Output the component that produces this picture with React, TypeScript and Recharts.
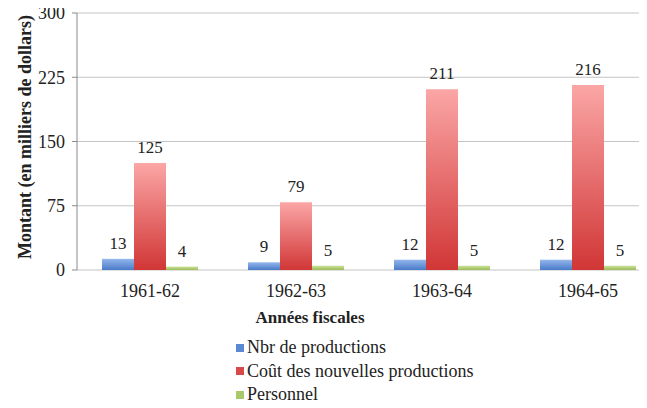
import { BarChart, Bar, XAxis, YAxis, CartesianGrid, Legend, LabelList } from 'recharts';

const years = ['1961-62', '1962-63', '1963-64', '1964-65'];
const nbrProductions = [13, 9, 12, 12];
const coutNouvellesProductions = [125, 79, 211, 216];
const personnel = [4, 5, 5, 5];
const yTicks = [0, 75, 150, 225, 300];

const SERIES = [
  { key: 'nbr', name: 'Nbr de productions', top: '#93b6ec', bottom: '#4a7bc8', swatch: '#5b88d2' },
  { key: 'cout', name: 'Coût des nouvelles productions', top: '#fba6a6', bottom: '#d13636', swatch: '#d84a4a' },
  { key: 'pers', name: 'Personnel', top: '#cbe29a', bottom: '#9bbb59', swatch: '#a8c86a' },
];

const data = years.map((year, i) => ({
  year,
  nbr: nbrProductions[i],
  cout: coutNouvellesProductions[i],
  pers: personnel[i],
}));

// boundaries between categories, for the tick marks under the x axis
const edges = years.map((_, i) => i).concat(years.length);

const FONT = "'Liberation Serif', Tinos, 'Times New Roman', 'DejaVu Serif', serif";
const TEXT = '#222';
const AXIS = '#8a8a8a';

function LegendBox() {
  return (
    <div style={{ fontFamily: FONT, fontSize: 18, color: TEXT }}>
      {SERIES.map(s => (
        <div key={s.key} style={{ display: 'flex', alignItems: 'center', height: 23.5, whiteSpace: 'nowrap' }}>
          <span style={{ width: 8, height: 8, background: s.swatch, marginRight: 3, display: 'inline-block' }} />
          <span>{s.name}</span>
        </div>
      ))}
    </div>
  );
}

export default function App() {
  return (
    <div style={{ position: 'relative', margin: -8, width: 647, height: 408, overflow: 'hidden', background: '#fff', fontFamily: FONT }}>
      <BarChart width={680} height={408} data={data} margin={{ top: 13, right: 19, bottom: 0, left: 0 }} barCategoryGap={25} barGap={0} style={{ fontFamily: FONT }}>
        <defs>
          {SERIES.map(s => (
            <linearGradient key={s.key} id={`grad-${s.key}`} x1="0" y1="0" x2="0" y2="1">
              <stop offset="0%" stopColor={s.top} />
              <stop offset="100%" stopColor={s.bottom} />
            </linearGradient>
          ))}
        </defs>
        <CartesianGrid xAxisId="cat" vertical={false} stroke="#c4c4c4" />
        <XAxis
          xAxisId="edge"
          type="number"
          domain={[0, years.length]}
          ticks={edges}
          height={0}
          axisLine={{ stroke: AXIS }}
          tickLine={{ stroke: '#555' }}
          tickSize={6}
          tick={false}
        />
        <XAxis
          xAxisId="cat"
          dataKey="year"
          height={138}
          axisLine={false}
          tickLine={false}
          tickSize={6}
          tickMargin={8}
          tick={{ fontSize: 18, fill: TEXT, style: { fontFamily: FONT } }}
          label={{
            content: () => (
              <text x={310} y={323} textAnchor="middle" fontSize={17} fontWeight="bold" fill={TEXT} style={{ fontFamily: FONT }}>
                Années fiscales
              </text>
            ),
          }}
        />
        <YAxis
          width={77}
          domain={[0, 300]}
          ticks={yTicks}
          axisLine={{ stroke: AXIS }}
          tickLine={{ stroke: AXIS }}
          tickSize={5}
          tickMargin={7}
          tick={{ fontSize: 18, fill: TEXT, style: { fontFamily: FONT } }}
          label={{
            content: () => (
              <text x={31} y={137} transform="rotate(-90 31 137)" textAnchor="middle" fontSize={18} fontWeight="bold" fill={TEXT} style={{ fontFamily: FONT }}>
                Montant (en milliers de dollars)
              </text>
            ),
          }}
        />
        {SERIES.map(s => (
          <Bar key={s.key} xAxisId="cat" dataKey={s.key} name={s.name} fill={`url(#grad-${s.key})`} isAnimationActive={false}>
            <LabelList dataKey={s.key} position="top" offset={10} fontSize={17} fill={TEXT} style={{ fontFamily: FONT }} />
          </Bar>
        ))}
        <Legend
          layout="vertical"
          align="center"
          verticalAlign="middle"
          content={() => <LegendBox />}
          wrapperStyle={{ left: 236, top: 336, width: 'auto', height: 'auto' }}
        />
      </BarChart>
    </div>
  );
}
